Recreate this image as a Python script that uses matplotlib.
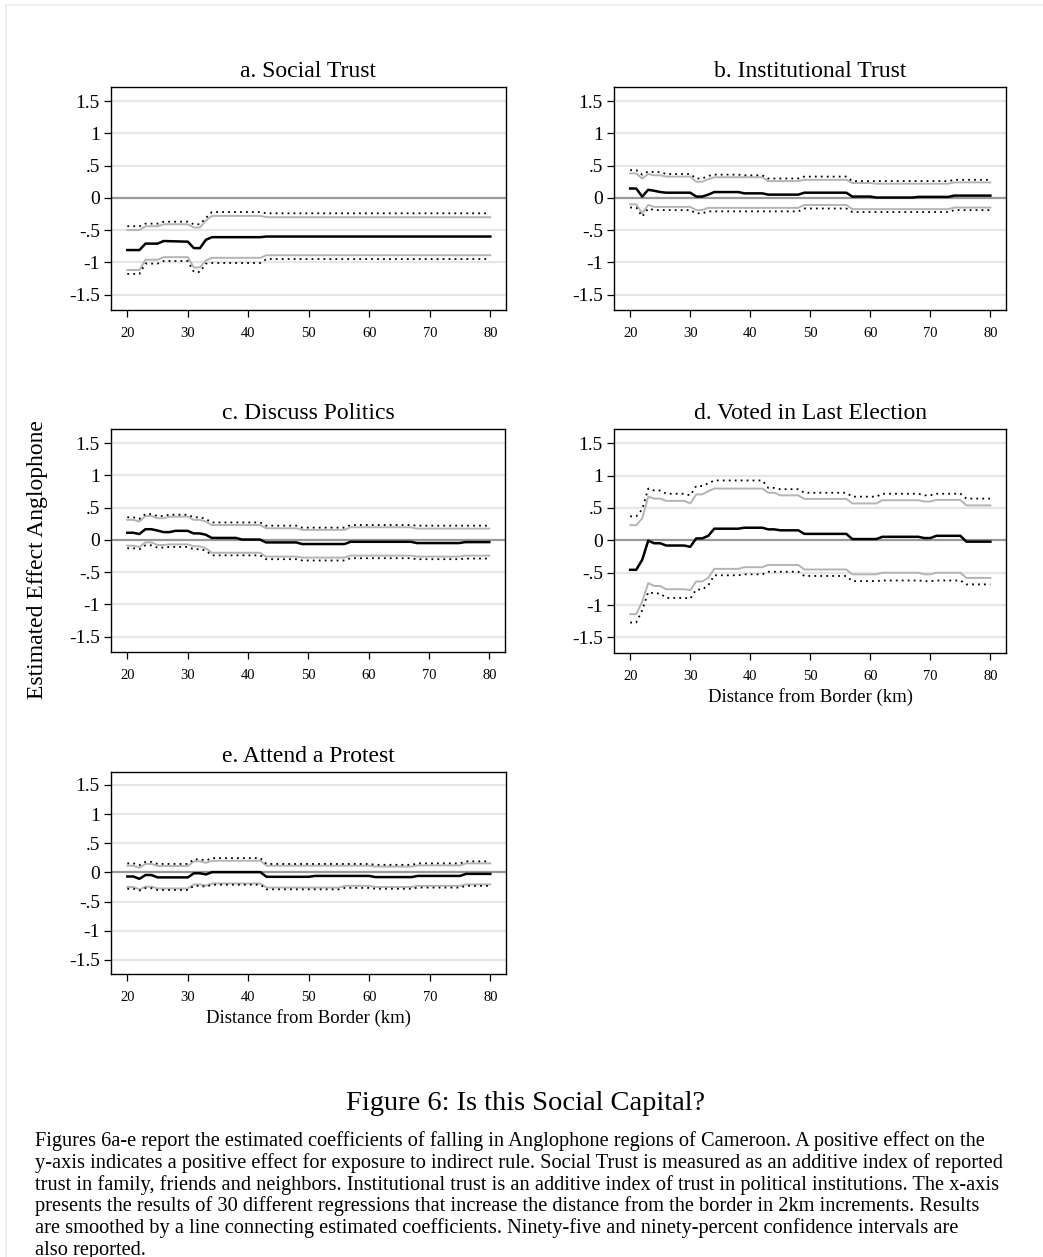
import numpy as np
import matplotlib
matplotlib.use("Agg")
import matplotlib.pyplot as plt
from matplotlib.lines import Line2D

plt.rcParams['font.family'] = ['Liberation Serif', 'DejaVu Serif']

# ---- data (knots where the estimates change, km from border) ----
a_x = [20, 22, 23, 25, 26, 30, 31, 32, 33, 34, 42, 43, 80]
a_est = [-0.81, -0.81, -0.71, -0.71, -0.67, -0.68, -0.78, -0.78, -0.65, -0.61, -0.61, -0.60, -0.60]
a_hi90 = [-0.50, -0.50, -0.44, -0.44, -0.41, -0.41, -0.46, -0.46, -0.35, -0.28, -0.28, -0.30, -0.30]
a_lo90 = [-1.12, -1.12, -0.96, -0.96, -0.92, -0.92, -1.08, -1.08, -0.97, -0.93, -0.93, -0.89, -0.89]
a_hi95 = [-0.44, -0.44, -0.40, -0.40, -0.37, -0.37, -0.41, -0.41, -0.31, -0.22, -0.22, -0.24, -0.24]
a_lo95 = [-1.18, -1.18, -1.02, -1.02, -0.98, -0.98, -1.15, -1.15, -1.02, -1.01, -1.01, -0.95, -0.95]

b_x = [20, 21, 22, 23, 24, 25, 26, 30, 31, 32, 33, 34, 38, 39, 42, 43, 48, 49, 56, 57, 60, 61, 67, 68, 73, 74, 80]
b_est = [0.145, 0.145, 0.02, 0.125, 0.11, 0.09, 0.08, 0.08, 0.02, 0.02, 0.05, 0.09, 0.09, 0.07, 0.07,
         0.05, 0.05, 0.08, 0.08, 0.02, 0.02, 0.005, 0.005, 0.015, 0.015, 0.035, 0.035]
b_hi90 = [0.38, 0.38, 0.30, 0.37, 0.35, 0.35, 0.33, 0.33, 0.25, 0.25, 0.29, 0.32, 0.32, 0.32, 0.32,
          0.26, 0.26, 0.28, 0.28, 0.23, 0.23, 0.22, 0.22, 0.22, 0.22, 0.24, 0.24]
b_hi95 = [0.43, 0.43, 0.36, 0.41, 0.40, 0.40, 0.37, 0.37, 0.30, 0.30, 0.34, 0.36, 0.36, 0.35, 0.35,
          0.30, 0.30, 0.33, 0.33, 0.26, 0.26, 0.26, 0.26, 0.26, 0.26, 0.28, 0.28]
b_lo90 = [-0.10, -0.10, -0.24, -0.11, -0.14, -0.14, -0.14, -0.14, -0.19, -0.19, -0.155, -0.155, -0.155, -0.155,
          -0.155, -0.155, -0.155, -0.11, -0.11, -0.175, -0.175, -0.175, -0.175, -0.175, -0.175, -0.15, -0.15]
b_lo95 = [-0.15, -0.15, -0.29, -0.165, -0.19, -0.19, -0.19, -0.19, -0.24, -0.24, -0.21, -0.21, -0.21, -0.21,
          -0.21, -0.21, -0.21, -0.165, -0.165, -0.22, -0.22, -0.22, -0.22, -0.22, -0.22, -0.19, -0.19]

c_x = [20, 21, 22, 23, 24, 25, 26, 27, 28, 30, 31, 32, 33, 34, 38, 39, 42, 43, 48, 49, 56, 57, 67, 68, 75, 76, 80]
c_est = [0.11, 0.11, 0.09, 0.165, 0.165, 0.145, 0.12, 0.12, 0.14, 0.14, 0.10, 0.10, 0.08, 0.03, 0.03, 0.005,
         0.005, -0.04, -0.04, -0.065, -0.065, -0.03, -0.03, -0.05, -0.05, -0.035, -0.035]
c_hi90 = [0.31, 0.31, 0.285, 0.37, 0.37, 0.335, 0.335, 0.36, 0.36, 0.36, 0.31, 0.31, 0.285, 0.23, 0.23, 0.23,
          0.23, 0.18, 0.18, 0.155, 0.155, 0.195, 0.195, 0.175, 0.175, 0.175, 0.175]
c_hi95 = [0.35, 0.35, 0.325, 0.40, 0.40, 0.37, 0.37, 0.39, 0.39, 0.39, 0.35, 0.35, 0.325, 0.27, 0.27, 0.27,
          0.27, 0.22, 0.22, 0.19, 0.19, 0.23, 0.23, 0.22, 0.22, 0.22, 0.22]
c_lo90 = [-0.09, -0.09, -0.11, -0.04, -0.04, -0.08, -0.08, -0.07, -0.07, -0.07, -0.10, -0.10, -0.13, -0.20,
          -0.20, -0.20, -0.20, -0.26, -0.26, -0.275, -0.275, -0.245, -0.245, -0.26, -0.26, -0.245, -0.245]
c_lo95 = [-0.13, -0.13, -0.145, -0.085, -0.085, -0.12, -0.12, -0.11, -0.11, -0.11, -0.145, -0.145, -0.165, -0.24,
          -0.24, -0.24, -0.24, -0.30, -0.30, -0.32, -0.32, -0.285, -0.285, -0.30, -0.30, -0.29, -0.29]

d_x = [20, 21, 22, 23, 24, 25, 26, 29, 30, 31, 32, 33, 34, 38, 39, 42, 43, 44, 45, 48, 49, 56, 57, 61, 62, 68,
       69, 70, 71, 75, 76, 80]
d_est = [-0.455, -0.455, -0.30, -0.005, -0.045, -0.045, -0.08, -0.08, -0.10, 0.03, 0.03, 0.07, 0.18, 0.18, 0.195,
         0.195, 0.17, 0.17, 0.155, 0.155, 0.10, 0.10, 0.02, 0.02, 0.055, 0.055, 0.035, 0.035, 0.07, 0.07, -0.02, -0.02]
d_hi90 = [0.235, 0.235, 0.34, 0.675, 0.645, 0.645, 0.61, 0.61, 0.57, 0.71, 0.71, 0.76, 0.80, 0.80, 0.80, 0.80,
          0.735, 0.735, 0.695, 0.695, 0.64, 0.64, 0.57, 0.57, 0.62, 0.62, 0.60, 0.60, 0.625, 0.625, 0.54, 0.54]
d_hi95 = [0.37, 0.37, 0.48, 0.80, 0.77, 0.77, 0.72, 0.72, 0.695, 0.84, 0.84, 0.88, 0.925, 0.925, 0.925, 0.925,
          0.81, 0.81, 0.79, 0.79, 0.735, 0.735, 0.675, 0.675, 0.72, 0.72, 0.695, 0.695, 0.72, 0.72, 0.645, 0.645]
d_lo90 = [-1.14, -1.14, -0.95, -0.66, -0.705, -0.705, -0.755, -0.755, -0.77, -0.635, -0.635, -0.58, -0.44, -0.44,
          -0.415, -0.415, -0.38, -0.38, -0.38, -0.38, -0.45, -0.45, -0.525, -0.525, -0.50, -0.50, -0.525, -0.525,
          -0.50, -0.50, -0.58, -0.58]
d_lo95 = [-1.27, -1.27, -1.08, -0.80, -0.82, -0.82, -0.89, -0.89, -0.90, -0.76, -0.76, -0.695, -0.54, -0.54,
          -0.525, -0.525, -0.485, -0.485, -0.485, -0.485, -0.55, -0.55, -0.63, -0.63, -0.62, -0.62, -0.63, -0.63,
          -0.62, -0.62, -0.68, -0.68]

e_x = [20, 21, 22, 23, 24, 25, 30, 31, 32, 33, 34, 42, 43, 50, 51, 55, 56, 60, 61, 67, 68, 75, 76, 80]
e_est = [-0.07, -0.07, -0.11, -0.045, -0.045, -0.085, -0.085, -0.015, -0.015, -0.035, 0.005, 0.005, -0.075,
         -0.075, -0.06, -0.06, -0.06, -0.06, -0.08, -0.08, -0.06, -0.06, -0.025, -0.025]
e_hi90 = [0.115, 0.115, 0.08, 0.145, 0.145, 0.11, 0.11, 0.19, 0.19, 0.165, 0.20, 0.20, 0.115, 0.115, 0.115,
          0.115, 0.115, 0.115, 0.10, 0.10, 0.12, 0.12, 0.155, 0.155]
e_hi95 = [0.155, 0.155, 0.125, 0.18, 0.18, 0.145, 0.145, 0.225, 0.225, 0.205, 0.245, 0.245, 0.145, 0.145, 0.145,
          0.145, 0.145, 0.145, 0.13, 0.13, 0.155, 0.155, 0.19, 0.19]
e_lo90 = [-0.25, -0.25, -0.29, -0.245, -0.245, -0.275, -0.275, -0.205, -0.205, -0.225, -0.19, -0.19, -0.26,
          -0.26, -0.26, -0.26, -0.23, -0.23, -0.25, -0.25, -0.23, -0.23, -0.205, -0.205]
e_lo95 = [-0.28, -0.28, -0.31, -0.27, -0.27, -0.30, -0.30, -0.23, -0.23, -0.245, -0.21, -0.21, -0.29, -0.29,
          -0.29, -0.29, -0.265, -0.265, -0.28, -0.28, -0.26, -0.26, -0.23, -0.23]

titles = ["a. Social Trust", "b. Institutional Trust", "c. Discuss Politics",
          "d. Voted in Last Election", "e. Attend a Protest"]
yticks = [-1.5, -1, -0.5, 0, 0.5, 1, 1.5]
ytick_labels = ["-1.5", "-1", "-.5", "0", ".5", "1", "1.5"]
xticks = [20, 30, 40, 50, 60, 70, 80]

W, H = 1043, 1257
fig = plt.figure(figsize=(W / 100, H / 100), dpi=100)
fig.patch.set_facecolor("white")

# axes boxes in pixels: left, top, right, bottom
boxes = [(111, 87, 506, 310), (614, 87, 1006, 310),
         (111, 429, 505, 652), (614, 429, 1006, 653),
         (111, 772, 506, 974)]
panels = [(a_x, a_est, a_lo90, a_hi90, a_lo95, a_hi95),
          (b_x, b_est, b_lo90, b_hi90, b_lo95, b_hi95),
          (c_x, c_est, c_lo90, c_hi90, c_lo95, c_hi95),
          (d_x, d_est, d_lo90, d_hi90, d_lo95, d_hi95),
          (e_x, e_est, e_lo90, e_hi90, e_lo95, e_hi95)]

for i, (box, data) in enumerate(zip(boxes, panels)):
    l, t, r, b = box
    ax = fig.add_axes([l / W, 1 - b / H, (r - l) / W, (b - t) / H])
    x, est, lo90, hi90, lo95, hi95 = data
    for yv in yticks:
        if yv != 0:
            ax.axhline(yv, color="#e6e6e6", lw=1.6, zorder=0)
    ax.axhline(0, color="#999999", lw=1.6, zorder=1)
    ax.plot(x, hi90, color="#b4b4b4", lw=1.4, zorder=2)
    ax.plot(x, lo90, color="#b4b4b4", lw=1.4, zorder=2)
    ax.plot(x, hi95, color="black", lw=1.3, ls=(0, (1, 2.3)), zorder=3)
    ax.plot(x, lo95, color="black", lw=1.3, ls=(0, (1, 2.3)), zorder=3)
    ax.plot(x, est, color="black", lw=1.8, zorder=4)

    ax.set_xlim(17.3, 82.6)
    ax.set_ylim(-1.74, 1.72)
    ax.set_yticks(yticks)
    ax.set_yticklabels(ytick_labels, fontsize=14)
    ax.set_xticks(xticks)
    ax.set_xticklabels([str(v) for v in xticks], fontsize=10.5)
    ax.tick_params(axis="both", direction="out", length=5, width=0.9, color="black")
    ax.tick_params(axis="y", pad=3)
    ax.tick_params(axis="x", pad=7)
    for s in ax.spines.values():
        s.set_linewidth(1.0)
        s.set_color("black")
    ax.set_title(titles[i], fontsize=17, pad=7)
    if i in (3, 4):
        ax.set_xlabel("Distance from Border (km)", fontsize=13.5, labelpad=4)

fig.text(38 / W, 1 - 560 / H, "Estimated Effect Anglophone", rotation=90,
         ha="center", va="center", fontsize=17)

# page edge lines
fig.add_artist(Line2D([6 / W, 6 / W], [0, 1 - 5 / H], color="#eeeeee", lw=1.2))
fig.add_artist(Line2D([6 / W, 1], [1 - 5 / H, 1 - 5 / H], color="#eeeeee", lw=1.2))

fig.text(526 / W, 1 - 1103 / H, "Figure 6: Is this Social Capital?", ha="center", va="center",
         fontsize=20.5)
caption = [
    "Figures 6a-e report the estimated coefficients of falling in Anglophone regions of Cameroon. A positive effect on the",
    "y-axis indicates a positive effect for exposure to indirect rule. Social Trust is measured as an additive index of reported",
    "trust in family, friends and neighbors. Institutional trust is an additive index of trust in political institutions. The x-axis",
    "presents the results of 30 different regressions that increase the distance from the border in 2km increments. Results",
    "are smoothed by a line connecting estimated coefficients. Ninety-five and ninety-percent confidence intervals are",
    "also reported.",
]
line_y = [1141, 1163, 1185, 1206, 1228, 1250]
for txt, yy in zip(caption, line_y):
    fig.text(35 / W, 1 - yy / H, txt, ha="left", va="center", fontsize=14.7)

fig.savefig("out.png", dpi=100)
